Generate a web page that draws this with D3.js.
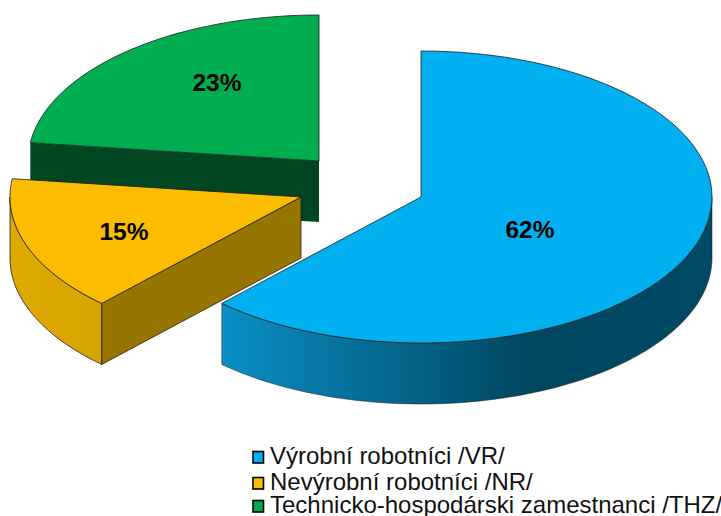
<!DOCTYPE html>
<html>
<head>
<meta charset="utf-8">
<script src="https://cdn.jsdelivr.net/npm/d3@7"></script>
<style>
  html, body { margin: 0; padding: 0; background: #fff; overflow: hidden; }
  text { font-family: "Liberation Sans", Arial, sans-serif; }
</style>
</head>
<body>
<div id="chart"></div>
<script>
//Chart values
const categories = ["Výrobní robotníci /VR/", "Nevýrobní robotníci /NR/", "Technicko-hospodárski zamestnanci /THZ/"];
const shares = [62, 15, 23];
const topColors = ["#00b0f0", "#fcbd00", "#00ad50"];

const width = 721, height = 516;
//Ellipse of the tilted pie and the height of its side wall
const rx = 291, ry = 146, depth = 61;
//Where every exploded slice has its apex
const apex = [{x: 421, y: 197}, {x: 301, y: 197}, {x: 319, y: 161}];
const labelPos = [{x: 530, y: 230}, {x: 124, y: 232}, {x: 217, y: 83}];

const svg = d3.select("#chart").append("svg")
    .attr("width", width)
    .attr("height", height);

const defs = svg.append("defs");

function addGradient(id, x1, x2, stops) {
    const g = defs.append("linearGradient")
        .attr("id", id)
        .attr("gradientUnits", "userSpaceOnUse")
        .attr("x1", x1).attr("x2", x2)
        .attr("y1", 0).attr("y2", 0);
    stops.forEach(s => g.append("stop").attr("offset", s[0]).attr("stop-color", s[1]));
}
addGradient("blueWall", 222, 712, [[0, "#0a8fc5"], [0.63, "#00465f"], [1, "#004a66"]]);
addGradient("yellowWall", 10, 103, [[0, "#dcaa00"], [1, "#d6a400"]]);

const arcs = d3.pie().value(d => d).sort(null)(shares);

//Projects a pie angle (0 is straight up, clockwise) onto the tilted ellipse
function project(i, angle, drop) {
    return [apex[i].x + rx * Math.sin(angle), apex[i].y - ry * Math.cos(angle) + (drop || 0)];
}
const line = d3.line();

function rimPoints(i, a0, a1, drop) {
    const steps = 80;
    return d3.range(steps + 1).map(k => project(i, a0 + (a1 - a0) * k / steps, drop));
}

function topPath(i) {
    const a = arcs[i];
    return line([[apex[i].x, apex[i].y]].concat(rimPoints(i, a.startAngle, a.endAngle))) + "Z";
}

function wallPath(i, a0, a1) {
    return line(rimPoints(i, a0, a1).concat(rimPoints(i, a1, a0, depth))) + "Z";
}

//Side face between the apex and the rim at the given angle
function cutPath(i, angle) {
    const p = project(i, angle);
    return line([
        [apex[i].x, apex[i].y],
        p,
        [p[0], p[1] + depth],
        [apex[i].x, apex[i].y + depth]
    ]) + "Z";
}

const edge = {stroke: "#1c1c1c", "stroke-width": 0.8, "stroke-linejoin": "round"};
function drawFace(d, fill) {
    const p = svg.append("path").attr("d", d).attr("fill", fill);
    Object.keys(edge).forEach(k => p.attr(k, edge[k]));
    return p;
}

//Back slices first so that the front ones cover them
//Green
svg.append("path").attr("d", cutPath(2, arcs[2].startAngle)).attr("fill", "#004620");
drawFace(topPath(2), topColors[2]);
//Yellow
drawFace(wallPath(1, arcs[1].startAngle, 1.5 * Math.PI), "url(#yellowWall)");
drawFace(cutPath(1, arcs[1].startAngle), "#967500");
drawFace(topPath(1), topColors[1]);
//Blue
drawFace(wallPath(0, Math.PI / 2, arcs[0].endAngle), "url(#blueWall)").attr("stroke-width", 0.5);
drawFace(topPath(0), topColors[0]);

//Percent labels
svg.selectAll("text.pct")
    .data(shares)
    .join("text")
    .attr("class", "pct")
    .attr("x", (d, i) => labelPos[i].x)
    .attr("y", (d, i) => labelPos[i].y + 8)
    .attr("text-anchor", "middle")
    .attr("font-size", 24.5)
    .attr("font-weight", "bold")
    .attr("fill", "#000")
    .text(d => d + "%");

//Legend
const legendY = [464, 490, 513];
const legend = svg.selectAll("g.legend")
    .data(categories)
    .join("g")
    .attr("class", "legend")
    .attr("transform", (d, i) => "translate(0," + legendY[i] + ")");

legend.append("rect")
    .attr("x", 253)
    .attr("y", -12.5)
    .attr("width", 10.5)
    .attr("height", 11.5)
    .attr("fill", (d, i) => topColors[i])
    .attr("stroke", "#000")
    .attr("stroke-width", 1.6);

legend.append("text")
    .attr("x", 270)
    .attr("font-size", 24)
    .attr("fill", "#111")
    .text(d => d);
</script>
</body>
</html>
